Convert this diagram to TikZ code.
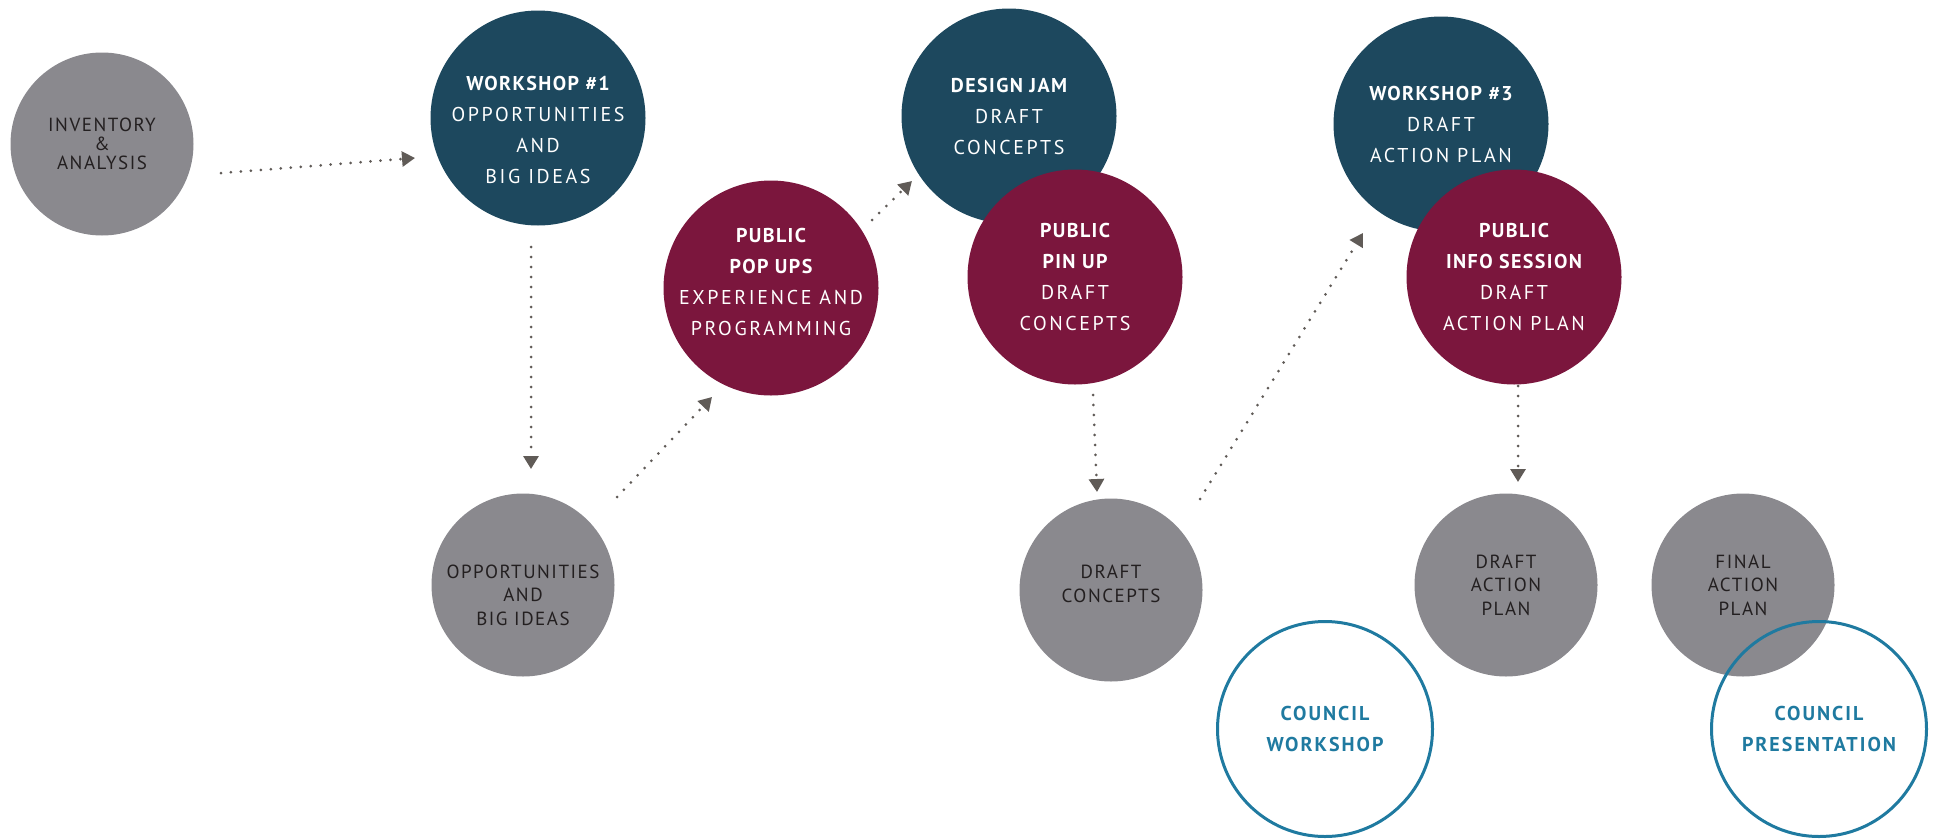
\documentclass[tikz,border=0pt]{standalone}
\usepackage{fontspec}
\setmainfont{PT Sans}
\newfontfamily\stagefont{PT Sans}[LetterSpace=13]
\newfontfamily\stageboldfont{PT Sans Bold}[LetterSpace=7]
\newfontfamily\productfont{PT Sans}[LetterSpace=8]
\newfontfamily\councilfont{PT Sans Bold}[LetterSpace=10]
\newcommand{\hd}[1]{{\stageboldfont #1}}
\usetikzlibrary{arrows.meta}

\definecolor{wsblue}{RGB}{29,72,94}
\definecolor{pubred}{RGB}{123,22,61}
\definecolor{prodgray}{RGB}{138,137,142}
\definecolor{cnclblue}{RGB}{31,122,160}
\definecolor{flowgray}{RGB}{96,91,87}
\definecolor{prodtext}{RGB}{35,31,32}

\begin{document}
\begin{tikzpicture}[%
        x = 1pt, y = -1pt,
        line cap = round,
        > = {Triangle[length=13pt, width=15pt]},
        stagetext/.style = {align=center, text=white,
            font=\stagefont\fontsize{20}{31}\selectfont},
        prodtext/.style = {align=center, text=prodtext,
            font=\productfont\fontsize{19}{23.5}\selectfont},
        bigstage/.style = {circle, minimum size=215pt, inner sep=0pt,
            stagetext},
        workshop/.style = {bigstage, fill=wsblue},
        public/.style = {bigstage, fill=pubred},
        product/.style = {circle, fill=prodgray, minimum size=183pt,
            inner sep=0pt, prodtext},
        council/.style = {circle, draw=cnclblue, line width=3pt,
            minimum size=215pt, inner sep=0pt, align=center,
            text=cnclblue, font=\councilfont\fontsize{20}{31.5}\selectfont},
        flow/.style = {draw=flowgray, line width=3pt,
            dash pattern=on 0pt off 10pt, ->}
    ]

        % Fix the page to the size of the reference.
        \useasboundingbox (0,0) rectangle (1934,838);

        % Products of each phase, shaded grey.
        \node[product] (inv) at (102,144) {INVENTORY\\[-4.5pt]\&\\[-4.5pt]ANALYSIS};
        \node[product, label={[prodtext, yshift=-10]center:{OPPORTUNITIES\\AND\\BIG IDEAS}}]
            (opp) at (523,585) {};
        \node[product, label={[prodtext, yshift=6]center:{DRAFT\\CONCEPTS}}]
            (dcon) at (1111,590) {};
        \node[product] (dap) at (1506,585) {DRAFT\\ACTION\\PLAN};
        \node[product] (fap) at (1743,585) {FINAL\\ACTION\\PLAN};

        % Workshops, with the public events laid over them.
        \node[workshop, label={[stagetext, yshift=-12]center:%
            {\hd{WORKSHOP \#1}\\OPPORTUNITIES\\AND\\BIG IDEAS}}]
            (ws1) at (538,118) {};
        \node[public, label={[stagetext, yshift=6]center:%
            {\hd{PUBLIC}\\\hd{POP UPS}\\EXPERIENCE AND\\PROGRAMMING}}]
            (pop) at (771,288) {};
        \node[workshop] (jam) at (1009,116)
            {\hd{DESIGN JAM}\\DRAFT\\CONCEPTS};
        \node[public] (pin) at (1075,277)
            {\hd{PUBLIC}\\\hd{PIN UP}\\DRAFT\\CONCEPTS};
        \node[workshop] (ws3) at (1441,124)
            {\hd{WORKSHOP \#3}\\DRAFT\\ACTION PLAN};
        \node[public] (info) at (1514,277)
            {\hd{PUBLIC}\\\hd{INFO SESSION}\\DRAFT\\ACTION PLAN};

        % Council meetings, outlined only.
        \node[council] (cws) at (1325,729) {COUNCIL\\WORKSHOP};
        \node[council] (cpr) at (1819,729) {COUNCIL\\PRESENTATION};

        % Dotted arrows between the steps.
        \draw[flow] ([shift={(119,29)}]inv.center) -- ([shift={(-123,40)}]ws1.center);
        \draw[flow] ([shift={(-7,129)}]ws1.center) -- ([shift={(8,-116)}]opp.center);
        \draw[flow] ([shift={(94,-88)}]opp.center) -- ([shift={(-59,109)}]pop.center);
        \draw[flow] ([shift={(101,-68)}]pop.center) -- ([shift={(-97,65)}]jam.center);
        \draw[flow] ([shift={(18,118)}]pin.center) -- ([shift={(-14,-98)}]dcon.center);
        \draw[flow] ([shift={(89,-91)}]dcon.center) -- ([shift={(-78,109)}]ws3.center);
        \draw[flow] ([shift={(4,109)}]info.center) -- ([shift={(12,-103)}]dap.center);
    \end{tikzpicture}
\end{document}
